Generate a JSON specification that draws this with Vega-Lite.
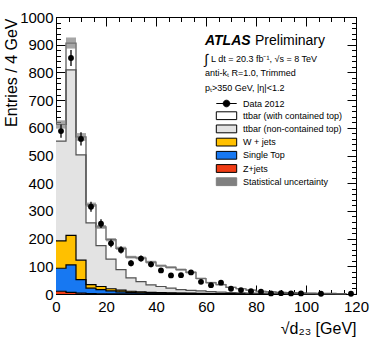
{
  "$schema": "https://vega.github.io/schema/vega-lite/v6.json",
  "width": 300,
  "height": 277,
  "autosize": {"type": "none"},
  "padding": {"left": 56, "top": 17, "right": 18, "bottom": 57},
  "background": "white",
  "config": {
    "view": {"stroke": "black", "strokeWidth": 1},
    "font": "Liberation Sans",
    "axis": {"labelFont": "Liberation Sans", "titleFont": "Liberation Sans", "zindex": 1},
    "legend": {"labelFont": "Liberation Sans"}
  },
  "datasets": {
    "procs": [
      {"k": "z", "proc": "Z+jets", "idx": 0},
      {"k": "st", "proc": "Single Top", "idx": 1},
      {"k": "w", "proc": "W + jets", "idx": 2},
      {"k": "nc", "proc": "ttbar (non-contained top)", "idx": 3},
      {"k": "c", "proc": "ttbar (with contained top)", "idx": 4}
    ],
    "bins": [
      {"lo": 0, "hi": 4, "mid": 2, "z": 10, "st": 83, "w": 99, "nc": 360, "c": 60, "data": 588, "dlo": 564, "dhi": 612, "blo": 597, "bhi": 627},
      {"lo": 4, "hi": 8, "mid": 6, "z": 6, "st": 99, "w": 107, "nc": 597, "c": 97, "data": 852, "dlo": 823, "dhi": 881, "blo": 886, "bhi": 926},
      {"lo": 8, "hi": 12, "mid": 10, "z": 3, "st": 49, "w": 70, "nc": 380, "c": 65, "data": 560, "dlo": 536, "dhi": 584, "blo": 553, "bhi": 581},
      {"lo": 12, "hi": 16, "mid": 14, "z": 1, "st": 20, "w": 13, "nc": 223, "c": 65, "data": 315, "dlo": 297, "dhi": 333, "blo": 314, "bhi": 330},
      {"lo": 16, "hi": 20, "mid": 18, "z": 0.7, "st": 15.3, "w": 11, "nc": 148, "c": 67, "data": 254, "dlo": 238, "dhi": 270, "blo": 235, "bhi": 249},
      {"lo": 20, "hi": 24, "mid": 22, "z": 0.5, "st": 10.5, "w": 8, "nc": 107, "c": 70, "data": 183, "dlo": 169, "dhi": 197, "blo": 190, "bhi": 202},
      {"lo": 24, "hi": 28, "mid": 26, "z": 0.3, "st": 7.7, "w": 6, "nc": 74, "c": 77, "data": 159, "dlo": 146, "dhi": 172, "blo": 159, "bhi": 171},
      {"lo": 28, "hi": 32, "mid": 30, "z": 0.2, "st": 5.8, "w": 4, "nc": 48, "c": 75, "data": 111, "dlo": 100, "dhi": 122, "blo": 128, "bhi": 138},
      {"lo": 32, "hi": 36, "mid": 34, "z": 0.2, "st": 4.3, "w": 3.5, "nc": 37, "c": 85, "data": 128, "dlo": 117, "dhi": 139, "blo": 125, "bhi": 135},
      {"lo": 36, "hi": 40, "mid": 38, "z": 0.1, "st": 3.4, "w": 2.5, "nc": 27, "c": 82, "data": 107, "dlo": 97, "dhi": 117, "blo": 110, "bhi": 120},
      {"lo": 40, "hi": 44, "mid": 42, "z": 0.1, "st": 2.9, "w": 2, "nc": 22, "c": 75, "data": 85, "dlo": 76, "dhi": 94, "blo": 97.5, "bhi": 106.5},
      {"lo": 44, "hi": 48, "mid": 46, "z": 0.1, "st": 2.4, "w": 1.5, "nc": 17, "c": 75, "data": 67, "dlo": 59, "dhi": 75, "blo": 91.6, "bhi": 100.4},
      {"lo": 48, "hi": 52, "mid": 50, "z": 0.1, "st": 1.9, "w": 1.5, "nc": 12.5, "c": 72, "data": 68, "dlo": 60, "dhi": 76, "blo": 84, "bhi": 92},
      {"lo": 52, "hi": 56, "mid": 54, "z": 0, "st": 1.6, "w": 1.4, "nc": 10, "c": 65, "data": 78, "dlo": 69, "dhi": 87, "blo": 74, "bhi": 82},
      {"lo": 56, "hi": 60, "mid": 58, "z": 0, "st": 1.3, "w": 1.2, "nc": 8.5, "c": 45, "data": 44, "dlo": 37, "dhi": 51, "blo": 52.6, "bhi": 59.4},
      {"lo": 60, "hi": 64, "mid": 62, "z": 0, "st": 1, "w": 1, "nc": 7, "c": 32, "data": 32, "dlo": 26, "dhi": 38, "blo": 38, "bhi": 44},
      {"lo": 64, "hi": 68, "mid": 66, "z": 0, "st": 0.8, "w": 0.7, "nc": 5.5, "c": 27, "data": 41, "dlo": 35, "dhi": 47, "blo": 31.4, "bhi": 36.6},
      {"lo": 68, "hi": 72, "mid": 70, "z": 0, "st": 0.6, "w": 0.6, "nc": 4.3, "c": 18.5, "data": 19, "dlo": 15, "dhi": 23, "blo": 21.8, "bhi": 26.2},
      {"lo": 72, "hi": 76, "mid": 74, "z": 0, "st": 0.5, "w": 0.5, "nc": 3.5, "c": 14.5, "data": 14, "dlo": 10, "dhi": 18, "blo": 17, "bhi": 21},
      {"lo": 76, "hi": 80, "mid": 78, "z": 0, "st": 0.4, "w": 0.4, "nc": 2.7, "c": 10.5, "data": 10, "dlo": 7, "dhi": 13, "blo": 12.3, "bhi": 15.7},
      {"lo": 80, "hi": 84, "mid": 82, "z": 0, "st": 0.3, "w": 0.3, "nc": 2.4, "c": 7, "data": 8, "dlo": 5, "dhi": 11, "blo": 8.6, "bhi": 11.4},
      {"lo": 84, "hi": 88, "mid": 86, "z": 0, "st": 0.3, "w": 0.2, "nc": 2, "c": 5.5, "data": 2, "dlo": 0.6, "dhi": 3.4, "blo": 6.7, "bhi": 9.3},
      {"lo": 88, "hi": 92, "mid": 90, "z": 0, "st": 0.2, "w": 0.2, "nc": 1.6, "c": 4, "data": 3, "dlo": 1.3, "dhi": 4.7, "blo": 4.9, "bhi": 7.1},
      {"lo": 92, "hi": 96, "mid": 94, "z": 0, "st": 0.2, "w": 0.1, "nc": 1.2, "c": 3.5, "data": 2, "dlo": 0.6, "dhi": 3.4, "blo": 4, "bhi": 6},
      {"lo": 96, "hi": 100, "mid": 98, "z": 0, "st": 0.1, "w": 0.1, "nc": 1, "c": 2.8, "data": 2, "dlo": 0.6, "dhi": 3.4, "blo": 3.1, "bhi": 4.9},
      {"lo": 100, "hi": 104, "mid": 102, "z": 0, "st": 0.1, "w": 0.1, "nc": 0.8, "c": 2, "data": null, "dlo": null, "dhi": null, "blo": 2.2, "bhi": 3.8},
      {"lo": 104, "hi": 108, "mid": 106, "z": 0, "st": 0.1, "w": 0.1, "nc": 0.6, "c": 1.7, "data": 1, "dlo": 0, "dhi": 2, "blo": 1.8, "bhi": 3.2},
      {"lo": 108, "hi": 112, "mid": 110, "z": 0, "st": 0.1, "w": 0, "nc": 0.5, "c": 1.4, "data": null, "dlo": null, "dhi": null, "blo": 1.4, "bhi": 2.6},
      {"lo": 112, "hi": 116, "mid": 114, "z": 0, "st": 0.05, "w": 0, "nc": 0.4, "c": 1.05, "data": null, "dlo": null, "dhi": null, "blo": 0.95, "bhi": 2.05},
      {"lo": 116, "hi": 120, "mid": 118, "z": 0, "st": 0.05, "w": 0, "nc": 0.35, "c": 0.8, "data": 1, "dlo": 0, "dhi": 2, "blo": 0.7, "bhi": 1.7}
    ]
  },
  "layer": [
    {
      "data": {"name": "bins"},
      "transform": [
        {"fold": ["z", "st", "w", "nc", "c"], "as": ["k", "n"]},
        {"lookup": "k", "from": {"data": {"name": "procs"}, "key": "k", "fields": ["proc", "idx"]}},
        {"stack": "n", "groupby": ["lo"], "sort": [{"field": "idx", "order": "ascending"}], "as": ["y0", "y1"]}
      ],
      "mark": {"type": "bar"},
      "encoding": {
        "x": {
          "field": "lo", "type": "quantitative",
          "scale": {"domain": [0, 120], "nice": false, "zero": false},
          "axis": {
            "orient": "bottom",
            "values": [0, 5, 10, 15, 20, 25, 30, 35, 40, 45, 50, 55, 60, 65, 70, 75, 80, 85, 90, 95, 100, 105, 110, 115, 120],
            "format": "d",
            "labelExpr": "datum.value % 20 === 0 ? datum.label : ''",
            "tickSize": {"condition": {"test": "datum.value % 20 === 0", "value": -9}, "value": -4.5},
            "tickColor": "black", "domainColor": "black",
            "labelFontSize": 15, "labelColor": "black", "labelPadding": 14,
            "labelFlush": false, "labelOverlap": false, "grid": false,
            "title": "√d₂₃ [GeV]", "titleFontSize": 16, "titleFontWeight": "normal", "titleColor": "black",
            "titleX": 300, "titleY": 34, "titleAlign": "right", "titleBaseline": "middle"
          }
        },
        "x2": {"field": "hi"},
        "y": {
          "field": "y0", "type": "quantitative",
          "scale": {"domain": [0, 1000], "nice": false},
          "axis": {
            "orient": "left",
            "values": [0, 20, 40, 60, 80, 100, 120, 140, 160, 180, 200, 220, 240, 260, 280, 300, 320, 340, 360, 380, 400, 420, 440, 460, 480, 500, 520, 540, 560, 580, 600, 620, 640, 660, 680, 700, 720, 740, 760, 780, 800, 820, 840, 860, 880, 900, 920, 940, 960, 980, 1000],
            "format": "d",
            "labelExpr": "datum.value % 100 === 0 ? datum.label : ''",
            "tickSize": {"condition": {"test": "datum.value % 100 === 0", "value": -9}, "value": -4.5},
            "tickColor": "black", "domainColor": "black",
            "labelFontSize": 15, "labelColor": "black", "labelPadding": 12,
            "labelFlush": false, "labelOverlap": false, "grid": false,
            "title": "Entries / 4 GeV", "titleFontSize": 16, "titleFontWeight": "normal", "titleColor": "black",
            "titleX": -45, "titleY": 1, "titleAngle": -90, "titleAlign": "right", "titleBaseline": "middle"
          }
        },
        "y2": {"field": "y1"},
        "fill": {
          "field": "proc", "type": "nominal",
          "scale": {
            "domain": ["Data 2012", "ttbar (with contained top)", "ttbar (non-contained top)", "W + jets", "Single Top", "Z+jets", "Statistical uncertainty"],
            "range": ["black", "white", "#e3e3e3", "#ffc000", "#1778f2", "#f03c14", "#808080"]
          },
          "legend": {
            "orient": "none", "legendX": 164, "legendY": 80, "title": null,
            "symbolSize": 144, "labelFontSize": 9, "labelColor": "black", "labelOffset": 10,
            "rowPadding": 0.2, "padding": 0, "symbolStrokeWidth": 1, "symbolStrokeColor": "black", "symbolOpacity": 1,
            "encode": {
              "symbols": {
                "update": {
                  "shape": {"signal": "datum.value === 'Data 2012' ? 'M-1.7,0H1.7M0.55,0A0.55,0.55,0,1,1,-0.55,0A0.55,0.55,0,1,1,0.55,0Z' : 'M-1.7,-0.65H1.7V0.65H-1.7Z'"},
                  "stroke": {"signal": "datum.value === 'Statistical uncertainty' ? '#808080' : 'black'"}
                }
              }
            }
          }
        }
      }
    },
    {
      "data": {"name": "bins"},
      "transform": [
        {"fold": ["z", "st", "w", "nc", "c"], "as": ["k", "n"]},
        {"lookup": "k", "from": {"data": {"name": "procs"}, "key": "k", "fields": ["proc", "idx"]}},
        {"stack": "n", "groupby": ["lo"], "sort": [{"field": "idx", "order": "ascending"}], "as": ["y0", "y1"]}
      ],
      "mark": {"type": "line", "interpolate": "step-after", "strokeWidth": 1.2},
      "encoding": {
        "x": {"field": "lo", "type": "quantitative", "axis": null},
        "y": {"field": "y1", "type": "quantitative", "axis": null},
        "stroke": {
          "field": "proc", "type": "nominal",
          "scale": {
            "domain": ["Z+jets", "Single Top", "W + jets", "ttbar (non-contained top)", "ttbar (with contained top)"],
            "range": ["black", "black", "black", "#505050", "#505050"]
          },
          "legend": null
        }
      }
    },
    {
      "data": {"name": "bins"},
      "mark": {"type": "bar", "opacity": 0.7},
      "encoding": {
        "x": {"field": "lo", "type": "quantitative", "axis": null},
        "x2": {"field": "hi"},
        "y": {"field": "blo", "type": "quantitative", "axis": null},
        "y2": {"field": "bhi"},
        "fill": {"datum": "Statistical uncertainty"}
      }
    },
    {
      "data": {"name": "bins"},
      "mark": {"type": "rule", "color": "black", "strokeWidth": 1.3},
      "encoding": {
        "x": {
          "field": "mid", "type": "quantitative",
          "axis": {
            "orient": "top",
            "values": [0, 5, 10, 15, 20, 25, 30, 35, 40, 45, 50, 55, 60, 65, 70, 75, 80, 85, 90, 95, 100, 105, 110, 115, 120],
            "labels": false, "title": null, "grid": false,
            "tickSize": {"condition": {"test": "datum.value % 20 === 0", "value": -9}, "value": -4.5},
            "tickColor": "black", "domainColor": "black"
          }
        },
        "y": {
          "field": "dlo", "type": "quantitative",
          "axis": {
            "orient": "right",
            "values": [0, 20, 40, 60, 80, 100, 120, 140, 160, 180, 200, 220, 240, 260, 280, 300, 320, 340, 360, 380, 400, 420, 440, 460, 480, 500, 520, 540, 560, 580, 600, 620, 640, 660, 680, 700, 720, 740, 760, 780, 800, 820, 840, 860, 880, 900, 920, 940, 960, 980, 1000],
            "labels": false, "title": null, "grid": false,
            "tickSize": {"condition": {"test": "datum.value % 100 === 0", "value": -9}, "value": -4.5},
            "tickColor": "black", "domainColor": "black"
          }
        },
        "y2": {"field": "dhi"}
      }
    },
    {
      "data": {"name": "bins"},
      "mark": {"type": "circle", "size": 34, "opacity": 1},
      "encoding": {
        "x": {"field": "mid", "type": "quantitative", "axis": null},
        "y": {"field": "data", "type": "quantitative", "axis": null},
        "fill": {"datum": "Data 2012"}
      }
    },
    {
      "data": {"values": [{}]},
      "mark": {"type": "text", "text": "ATLAS", "fontSize": 14, "fontWeight": "bold", "fontStyle": "italic", "align": "left", "baseline": "alphabetic", "color": "black"},
      "encoding": {"x": {"datum": 59.6, "type": "quantitative", "axis": null}, "y": {"datum": 899, "type": "quantitative", "axis": null}}
    },
    {
      "data": {"values": [{}]},
      "mark": {"type": "text", "text": "Preliminary", "fontSize": 14, "align": "left", "baseline": "alphabetic", "color": "black"},
      "encoding": {"x": {"datum": 79.6, "type": "quantitative", "axis": null}, "y": {"datum": 899, "type": "quantitative", "axis": null}}
    },
    {
      "data": {"values": [{}]},
      "mark": {"type": "text", "text": "∫", "fontSize": 14, "align": "left", "baseline": "alphabetic", "color": "black"},
      "encoding": {"x": {"datum": 59.4, "type": "quantitative", "axis": null}, "y": {"datum": 830, "type": "quantitative", "axis": null}}
    },
    {
      "data": {"values": [{}]},
      "mark": {"type": "text", "text": "L dt = 20.3 fb⁻¹, √s = 8 TeV", "fontSize": 9, "align": "left", "baseline": "alphabetic", "color": "black"},
      "encoding": {"x": {"datum": 62, "type": "quantitative", "axis": null}, "y": {"datum": 836, "type": "quantitative", "axis": null}}
    },
    {
      "data": {"values": [{}]},
      "mark": {"type": "text", "text": "anti-kₜ R=1.0, Trimmed", "fontSize": 9, "align": "left", "baseline": "alphabetic", "color": "black"},
      "encoding": {"x": {"datum": 59.6, "type": "quantitative", "axis": null}, "y": {"datum": 787, "type": "quantitative", "axis": null}}
    },
    {
      "data": {"values": [{}]},
      "mark": {"type": "text", "text": "pₜ>350 GeV, |η|<1.2", "fontSize": 9, "align": "left", "baseline": "alphabetic", "color": "black"},
      "encoding": {"x": {"datum": 59.6, "type": "quantitative", "axis": null}, "y": {"datum": 733, "type": "quantitative", "axis": null}}
    }
  ],
  "resolve": {"axis": {"x": "independent", "y": "independent"}}
}
